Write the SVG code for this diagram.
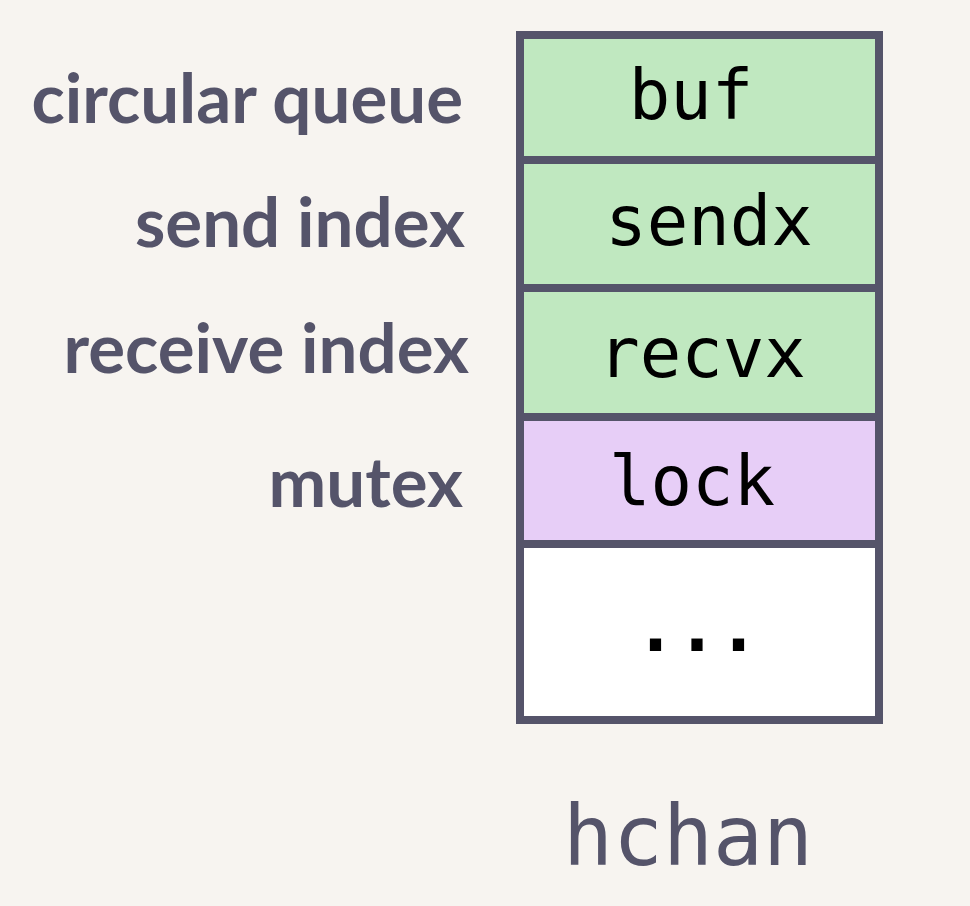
<svg xmlns="http://www.w3.org/2000/svg" width="970" height="906" viewBox="0 0 970 906">
<style>
.cell{stroke:#55546a;stroke-width:8}
.g{fill:#c0e8c0}
.p{fill:#e7cef7}
.w{fill:#ffffff}
.mono{font-family:"DejaVu Sans Mono",monospace;font-size:69px;fill:#000;text-anchor:middle}
.lbl{font-family:Lato,"Liberation Sans",sans-serif;font-weight:bold;font-size:69px;fill:#55546a;text-anchor:end}
.title{font-family:"DejaVu Sans Mono",monospace;font-size:83px;fill:#55546a;text-anchor:middle}
</style>
<rect width="970" height="906" fill="#f7f4f0"/>
<g id="buf"><rect class="cell g" x="520" y="35" width="359" height="125"/><text class="mono" x="691" y="119">buf</text></g>
<g id="sendx"><rect class="cell g" x="520" y="160" width="359" height="128"/><text class="mono" x="709" y="245">sendx</text></g>
<g id="recvx"><rect class="cell g" x="520" y="288" width="359" height="129"/><text class="mono" x="702" y="377">recvx</text></g>
<g id="lock"><rect class="cell p" x="520" y="417" width="359" height="127"/><text class="mono" x="692" y="505">lock</text></g>
<g id="more"><rect class="cell w" x="520" y="544" width="359" height="176"/><text class="mono" x="697" y="651" font-weight="bold">...</text></g>
<g id="labels">
<text class="lbl" x="463" y="123">circular queue</text>
<text class="lbl" x="465" y="247">send index</text>
<text class="lbl" x="469" y="373">receive index</text>
<text class="lbl" x="463" y="507">mutex</text>
</g>
<g id="title"><text class="title" x="688" y="865">hchan</text></g>
<g id="connectors"></g>
</svg>
